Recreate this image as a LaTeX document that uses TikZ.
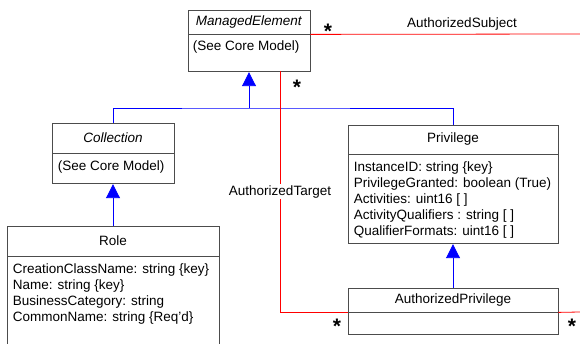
\documentclass[tikz,border=0pt]{standalone}
\usepackage{fontspec}
\setmainfont{Liberation Sans}
\usetikzlibrary{arrows.meta}

\tikzset{
  cls/.style={draw=black!70, line width=0.8pt, fill=white, inner sep=0pt},
  attr/.style={anchor=north west, align=left, inner sep=0pt, font=\fontsize{13.5}{16}\selectfont},
  inh/.style={draw=blue, line width=0.9pt},
  gen/.style={inh, -{Triangle[length=14pt,width=14pt]}},
  assoc/.style={draw=red, line width=0.8pt},
  mult/.style={inner sep=0pt, font=\fontsize{21}{21}\bfseries}
}

\begin{document}
\begin{tikzpicture}[x=1pt,y=-1pt,font=\fontsize{13.5}{16}\selectfont]
		\clip (0,0) rectangle (580,344);
		% classes
		\node[cls, minimum width=122, minimum height=24] (ME) at (249,22) {\textit{ManagedElement}};
		\node[cls, minimum width=122, minimum height=37, anchor=north] (MEb) at (ME.south) {};
		\node[cls, minimum width=122, minimum height=30] (Coll) at (113,138) {\textit{Collection}};
		\node[cls, minimum width=122, minimum height=30, anchor=north] (Collb) at (Coll.south) {};
		\node[cls, minimum width=212, minimum height=30] (Role) at (113,241) {Role};
		\node[cls, minimum width=212, minimum height=110, anchor=north] (Roleb) at (Role.south) {};
		\node[cls, minimum width=210, minimum height=29] (Priv) at (453,139.5) {Privilege};
		\node[cls, minimum width=210, minimum height=89, anchor=north] (Privb) at (Priv.south) {};
		\node[cls, minimum width=210, minimum height=24] (AP) at (453,300) {AuthorizedPrivilege};
		\node[cls, minimum width=210, minimum height=22, anchor=north] (APb) at (AP.south) {};
		%
		\node[attr] (MEt) at ([shift={(5,6)}]MEb.north west) {(See Core Model)};
		\node[attr] (Collt) at ([shift={(6,7)}]Collb.north west) {(See Core Model)};
		\node[attr] (Rolet) at ([shift={(6,7)}]Roleb.north west) {CreationClassName: string \{key\}\\
			Name: string \{key\}\\BusinessCategory: string\\CommonName: string \{Req'd\}};
		\node[attr] (Privt) at ([shift={(6,7)}]Privb.north west) {InstanceID: string \{key\}\\
			PrivilegeGranted: boolean (True)\\Activities: uint16 [ ]\\
			ActivityQualifiers : string [ ]\\QualifierFormats: uint16 [ ]};
		% inheritance
		\coordinate (J) at (249,108);
		\draw[inh] (Coll.north) |- (J) -| (Priv.north);
		\draw[gen] (J) -- (MEb.south);
		\draw[gen] (Role.north) -- (Collb.south);
		\draw[gen] (AP.north) -- (Privb.south);
		% associations
		\coordinate (T) at (280,71);
		\coordinate (S) at (580,34);
		\coordinate (R) at (580,312);
		\draw[assoc] (ME.south east) -- (S);
		\draw[assoc] (T) |- node[pos=0.25, fill=white, inner sep=1pt]{AuthorizedTarget} (AP.south west);
		\draw[assoc] (AP.south east) -- (R);
		%
		\node (subj) at (462,24) {AuthorizedSubject};
		\node[mult] (m1) at (328,31) {*};
		\node[mult] (m2) at (297,87) {*};
		\node[mult] (m3) at (337,326) {*};
		\node[mult] (m4) at (572,326) {*};
		\end{tikzpicture}
\end{document}
